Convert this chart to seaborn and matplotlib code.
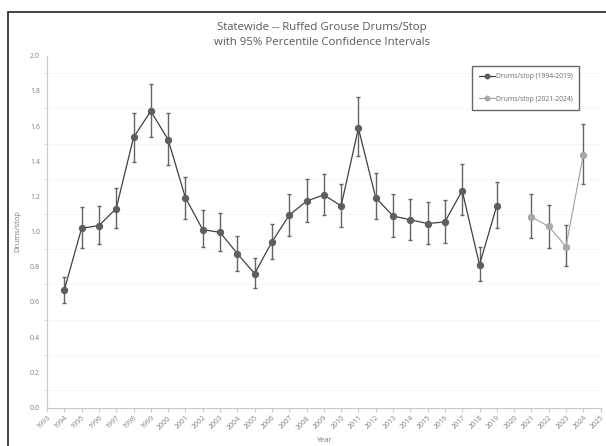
import matplotlib
matplotlib.use("Agg")
import matplotlib.pyplot as plt
import seaborn as sns
import pandas as pd
from matplotlib.lines import Line2D
from matplotlib.patches import Rectangle

years_a = [1994, 1995, 1996, 1997, 1998, 1999, 2000, 2001, 2002, 2003, 2004, 2005, 2006,
           2007, 2008, 2009, 2010, 2011, 2012, 2013, 2014, 2015, 2016, 2017, 2018, 2019]
vals_a = [0.668, 1.019, 1.034, 1.131, 1.535, 1.685, 1.523, 1.193, 1.011, 0.996, 0.875, 0.761, 0.941,
          1.093, 1.173, 1.209, 1.146, 1.588, 1.193, 1.089, 1.067, 1.046, 1.055, 1.233, 0.811, 1.148]
upper_a = [0.744, 1.139, 1.146, 1.247, 1.677, 1.838, 1.677, 1.311, 1.122, 1.105, 0.977, 0.849, 1.044,
           1.216, 1.300, 1.326, 1.273, 1.765, 1.332, 1.213, 1.186, 1.167, 1.180, 1.383, 0.915, 1.281]
lower_a = [0.593, 0.905, 0.928, 1.019, 1.397, 1.535, 1.379, 1.072, 0.911, 0.892, 0.778, 0.678, 0.845,
           0.976, 1.053, 1.093, 1.027, 1.427, 1.070, 0.972, 0.951, 0.930, 0.936, 1.093, 0.718, 1.021]

years_b = [2021, 2022, 2023, 2024]
vals_b = [1.084, 1.029, 0.915, 1.436]
upper_b = [1.213, 1.152, 1.036, 1.610]
lower_b = [0.966, 0.905, 0.805, 1.271]

labels = ["Drums/stop (1994-2019)", "Drums/stop (2021-2024)"]
title = "Statewide -- Ruffed Grouse Drums/Stop\nwith 95% Percentile Confidence Intervals"

sns.set_theme(style="white")
plt.rcParams['font.family'] = ['Open Sans', 'DejaVu Sans']

W, H = 606, 446
fig = plt.figure(figsize=(W / 100, H / 100), dpi=100)
fig.patch.set_facecolor("white")
left, right, top, bottom = 47.0, 600.6, 55.7, 407.5
ax = fig.add_axes([left / W, 1 - bottom / H, (right - left) / W, (bottom - top) / H])

# frame around chart (cropped at right/bottom)
fig.patches.append(Rectangle((8 / W, -0.05), 1.2, 1 - 12 / H + 0.05, transform=fig.transFigure,
                             fill=False, edgecolor="#222222", linewidth=1.2))

df_a = pd.DataFrame({"Year": years_a, "Drums/stop": vals_a})
df_b = pd.DataFrame({"Year": years_b, "Drums/stop": vals_b})

dark = "#5e5e5e"
light = "#a8a8a8"

ax.errorbar(years_a, vals_a,
            yerr=[[v - l for v, l in zip(vals_a, lower_a)], [u - v for v, u in zip(vals_a, upper_a)]],
            fmt="none", ecolor="#646464", elinewidth=1.0, capsize=1.5, capthick=1.0, zorder=2)
ax.errorbar(years_b, vals_b,
            yerr=[[v - l for v, l in zip(vals_b, lower_b)], [u - v for v, u in zip(vals_b, upper_b)]],
            fmt="none", ecolor="#646464", elinewidth=1.0, capsize=1.5, capthick=1.0, zorder=2)

sns.lineplot(data=df_a, x="Year", y="Drums/stop", ax=ax, color="#404040", linewidth=0.9,
             marker="o", markersize=4.5, markerfacecolor=dark, markeredgecolor=dark, zorder=3)
sns.lineplot(data=df_b, x="Year", y="Drums/stop", ax=ax, color=light, linewidth=0.9,
             marker="o", markersize=4.5, markerfacecolor=light, markeredgecolor=light, zorder=3)

ax.set_xlim(1993, 2025)
ax.set_ylim(0, 2.0)
ax.set_xticks(list(range(1993, 2026)))
ax.set_xticklabels([str(y) for y in range(1993, 2026)], rotation=45, ha="right",
                   rotation_mode="anchor", fontsize=5.0, color="#7f7f7f")
yt = [0.0, 0.2, 0.4, 0.6, 0.8, 1.0, 1.2, 1.4, 1.6, 1.8, 2.0]
ax.set_yticks(yt)
ax.set_yticklabels([f"{v:.1f}" for v in yt], fontsize=5.0, color="#7f7f7f")
ax.set_yticks([i / 10 for i in range(0, 21)], minor=True)
ax.tick_params(axis="both", which="major", length=3, color="#c8c8c8", width=0.8, pad=2)
ax.tick_params(axis="y", which="minor", length=2, color="#d0d0d0", width=0.6, left=True)
ax.tick_params(axis="x", which="major", bottom=True)
for s in ["top", "right"]:
    ax.spines[s].set_visible(False)
for s in ["left", "bottom"]:
    ax.spines[s].set_color("#c8c8c8")
    ax.spines[s].set_linewidth(0.8)
ax.grid(axis="y", which="minor", color="#f5f5f5", linewidth=0.6)
ax.set_axisbelow(True)

ax.set_xlabel("Year", fontsize=5.4, color="#7a7a7a", labelpad=4)
ax.set_ylabel("Drums/stop", fontsize=5.4, color="#7a7a7a", labelpad=6)
fig.text(322 / W, 1 - 35 / H, title, ha="center", va="center", fontsize=8.2,
         color="#595959", linespacing=1.4)

handles = [Line2D([], [], color="#404040", marker="o", markersize=3.2, markerfacecolor=dark,
                  markeredgecolor=dark, linewidth=0.9),
           Line2D([], [], color=light, marker="o", markersize=3.2, markerfacecolor=light,
                  markeredgecolor=light, linewidth=0.9)]
leg = ax.legend(handles, labels, loc="upper left",
                bbox_to_anchor=((471.7 - left) / (right - left), (bottom - 66) / (bottom - top)),
                fontsize=4.9, frameon=True, fancybox=False,
                labelspacing=2.3, handlelength=2.35, handletextpad=0.1, borderpad=1.05,
                borderaxespad=0, labelcolor="#6a6a6a")
leg.get_frame().set_edgecolor("#404040")
leg.get_frame().set_linewidth(1.0)

fig.savefig("out.png", dpi=100)
